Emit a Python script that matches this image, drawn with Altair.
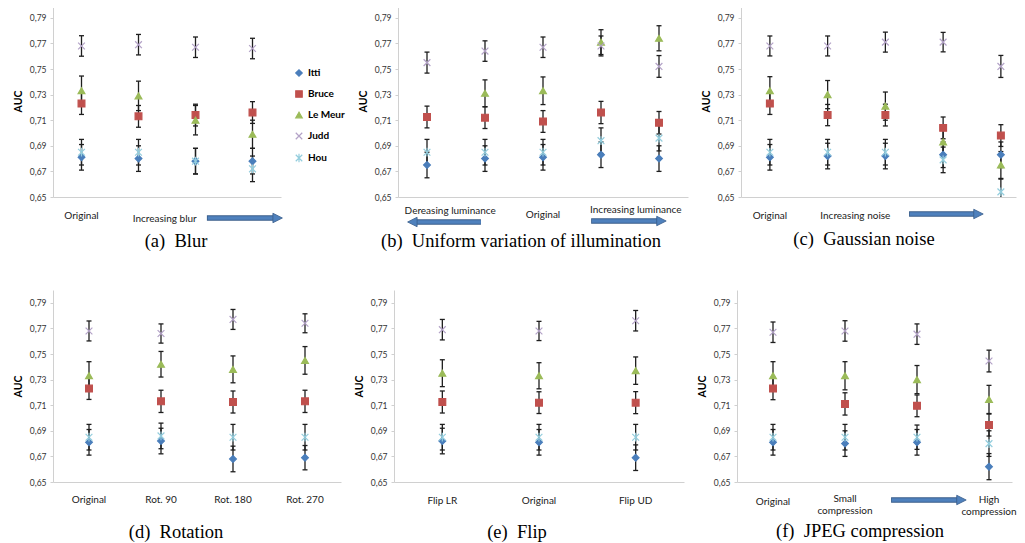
import altair as alt
import pandas as pd

MODELS = ["Itti", "Bruce", "Le Meur", "Judd", "Hou"]
COLORS = ["#4a7ebb", "#c0504d", "#9bbb59", "#b3a2c7", "#93cddd"]
SHAPES = ["diamond", "square", "triangle-up",
          "M-1,-1L1,1M-1,1L1,-1",
          "M-1,-1L1,1M-1,1L1,-1M0,-1.3L0,1.3"]
Y_TICKS = [0.65, 0.67, 0.69, 0.71, 0.73, 0.75, 0.77, 0.79]

# (a) Blur
BLUR = {"Itti": [0.681, 0.680, 0.678, 0.678],
        "Bruce": [0.723, 0.713, 0.714, 0.716],
        "Le Meur": [0.733, 0.729, 0.710, 0.699],
        "Judd": [0.768, 0.769, 0.767, 0.766],
        "Hou": [0.685, 0.685, 0.678, 0.672]}
BLUR_ERR = {"Itti": [0.010, 0.010, 0.010, 0.010],
            "Bruce": [0.0085, 0.0085, 0.0085, 0.0085],
            "Le Meur": [0.0115, 0.0115, 0.0115, 0.011],
            "Judd": [0.008, 0.008, 0.008, 0.008],
            "Hou": [0.010, 0.010, 0.010, 0.010]}

# (b) Uniform variation of illumination
LUM = {"Itti": [0.675, 0.680, 0.681, 0.683, 0.680],
       "Bruce": [0.7125, 0.712, 0.709, 0.716, 0.708],
       "Le Meur": [None, 0.731, 0.733, 0.771, 0.774],
       "Judd": [0.755, 0.764, 0.767, 0.768, 0.752],
       "Hou": [0.685, 0.685, 0.685, 0.694, 0.696]}
LUM_ERR = {"Itti": [0.010, 0.010, 0.010, 0.010, 0.010],
           "Bruce": [0.0085, 0.0085, 0.0085, 0.0087, 0.0088],
           "Le Meur": [0.010, 0.0105, 0.0108, 0.0097, 0.0098],
           "Judd": [0.0082, 0.008, 0.008, 0.0078, 0.0085],
           "Hou": [0.010, 0.010, 0.010, 0.010, 0.010]}

# (c) Gaussian noise
NOISE = {"Itti": [0.681, 0.682, 0.682, 0.683, 0.683],
         "Bruce": [0.723, 0.714, 0.714, 0.704, 0.698],
         "Le Meur": [0.733, 0.730, 0.721, 0.693, 0.675],
         "Judd": [0.768, 0.768, 0.771, 0.771, 0.752],
         "Hou": [0.685, 0.685, 0.685, 0.679, 0.654]}
NOISE_ERR = {"Itti": [0.010, 0.010, 0.010, 0.010, 0.010],
             "Bruce": [0.0085, 0.0083, 0.0085, 0.0085, 0.0085],
             "Le Meur": [0.011, 0.011, 0.011, 0.0105, 0.0105],
             "Judd": [0.0078, 0.0078, 0.0078, 0.0076, 0.0086],
             "Hou": [0.010, 0.010, 0.010, 0.010, 0.010]}

# (d) Rotation
ROT = {"Itti": [0.681, 0.682, 0.668, 0.669],
       "Bruce": [0.723, 0.713, 0.7125, 0.713],
       "Le Meur": [0.733, 0.742, 0.738, 0.745],
       "Judd": [0.768, 0.766, 0.777, 0.774],
       "Hou": [0.685, 0.686, 0.685, 0.685]}
ROT_ERR = {"Itti": [0.010, 0.010, 0.010, 0.0095],
           "Bruce": [0.0085, 0.0087, 0.0086, 0.0087],
           "Le Meur": [0.011, 0.010, 0.0105, 0.0108],
           "Judd": [0.0078, 0.0075, 0.0078, 0.0074],
           "Hou": [0.010, 0.010, 0.010, 0.010]}

# (e) Flip
FLIP = {"Itti": [0.682, 0.681, 0.669],
        "Bruce": [0.7125, 0.712, 0.712],
        "Le Meur": [0.735, 0.733, 0.737],
        "Judd": [0.769, 0.768, 0.776],
        "Hou": [0.685, 0.685, 0.685]}
FLIP_ERR = {"Itti": [0.010, 0.010, 0.010],
            "Bruce": [0.0086, 0.0085, 0.0086],
            "Le Meur": [0.0105, 0.0102, 0.0107],
            "Judd": [0.008, 0.0075, 0.008],
            "Hou": [0.010, 0.010, 0.010]}

# (f) JPEG compression
JPEG = {"Itti": [0.681, 0.680, 0.681, 0.662],
        "Bruce": [0.723, 0.711, 0.7095, 0.6945],
        "Le Meur": [0.733, 0.733, 0.730, 0.7145],
        "Judd": [0.767, 0.768, 0.7655, 0.7445],
        "Hou": [0.685, 0.685, 0.685, 0.680]}
JPEG_ERR = {"Itti": [0.010, 0.010, 0.010, 0.0102],
            "Bruce": [0.0087, 0.0087, 0.0085, 0.0086],
            "Le Meur": [0.011, 0.011, 0.011, 0.011],
            "Judd": [0.008, 0.008, 0.008, 0.0085],
            "Hou": [0.010, 0.010, 0.0095, 0.010]}

LABELS_A = [(1, "Original", 211), (2.46, "Increasing blur", 214)]
ARROWS_A = [(3.2, 4.52, 213, "right")]
LABELS_B = [(1.4, "Dereasing luminance", 206), (3, "Original", 210), (4.6, "Increasing luminance", 205)]
ARROWS_B = [(0.67, 1.93, 217, "left"), (3.83, 5.12, 216, "right")]
LABELS_C = [(1, "Original", 211), (2.48, "Increasing noise", 211)]
ARROWS_C = [(3.41, 4.69, 209, "right")]
LABELS_D = [(1, "Original", 210), (2, "Rot. 90", 210), (3, "Rot. 180", 210), (4, "Rot. 270", 210)]
LABELS_E = [(1, "Flip LR", 211), (2, "Original", 211), (3, "Flip UD", 211)]
LABELS_F = [(1, "Original", 212), (2, "Small\ncompression", 209), (4, "High\ncompression", 210)]
ARROWS_F = [(2.64, 3.68, 210, "right")]

AXIS_COLOR = "#d0d0d0"
ERR_COLOR = "#1e1e1e"
ARROW_FILL = "#4f81bd"
ARROW_EDGE = "#385d8a"
FONT = "Lato"
SERIF = "Liberation Serif"
H = 192


def make_df(means, errs):
    rows = []
    for m in MODELS:
        for i, v in enumerate(means[m]):
            if v is None:
                continue
            e = errs[m][i]
            rows.append({"pos": i + 1, "model": m, "auc": v, "lo": v - e, "hi": v + e})
    return pd.DataFrame(rows)


def panel(means, errs, width, xmax, labels, arrows, caption, cap_y, legend=False):
    df = make_df(means, errs)
    xs = alt.Scale(domain=[0.5, xmax], nice=False, zero=False)
    ys = alt.Scale(domain=[0.65, 0.80], nice=False, zero=False)
    xaxis = alt.Axis(title=None, labels=False, ticks=False, grid=False,
                     domainColor=AXIS_COLOR, domainWidth=1)
    yaxis = alt.Axis(title="AUC", values=Y_TICKS, grid=False,
                     labelExpr="replace(format(datum.value, '.2f'), '.', ',')",
                     labelFont=FONT, labelFontSize=8.5, labelColor="#333333",
                     labelPadding=4, tickSize=3, tickColor=AXIS_COLOR,
                     domainColor=AXIS_COLOR, titleFont=FONT, titleFontSize=10.5,
                     titleFontWeight="bold", titleColor="black", titlePadding=6)

    def X(field):
        return alt.X(field, scale=xs, axis=xaxis)

    def Y(field):
        return alt.Y(field, scale=ys, axis=yaxis)

    base = alt.Chart(df)
    layers = []
    layers.append(base.mark_rule(color=ERR_COLOR, strokeWidth=1.3, clip=True).encode(
        x=X("pos:Q"), y=Y("lo:Q"), y2="hi:Q"))
    for f in ["lo:Q", "hi:Q"]:
        layers.append(base.mark_tick(orient="horizontal", size=5, thickness=1.3,
                                     color=ERR_COLOR, clip=True, opacity=1).encode(
            x=X("pos:Q"), y=Y(f)))

    if legend:
        leg = alt.Legend(orient="none", legendX=241, legendY=63, title=None,
                         labelFont=FONT, labelFontWeight="bold", labelFontSize=10,
                         labelColor="black", symbolSize=42, rowPadding=9,
                         labelOffset=4, padding=0, symbolStrokeWidth=1.2)
    else:
        leg = None
    cscale = alt.Scale(domain=MODELS, range=COLORS)
    layers.append(base.mark_point(filled=True, size=46, strokeWidth=1.2, opacity=1,
                                  clip=True).encode(
        x=X("pos:Q"), y=Y("auc:Q"),
        fill=alt.Fill("model:N", scale=cscale, legend=leg),
        stroke=alt.Stroke("model:N", scale=cscale, legend=leg),
        shape=alt.Shape("model:N", scale=alt.Scale(domain=MODELS, range=SHAPES), legend=leg)))

    for (p, txt, yy) in labels:
        ldf = pd.DataFrame({"pos": [p], "label": [txt]})
        layers.append(alt.Chart(ldf).mark_text(font=FONT, fontSize=10, color="#1a1a1a",
                                               baseline="middle", align="center",
                                               lineBreak="\n", lineHeight=12).encode(
            x=X("pos:Q"), y=alt.value(yy), text="label:N"))

    for (x0, x1, yy, d) in arrows:
        adf = pd.DataFrame({"x0": [x0], "x1": [x1]})
        ach = alt.Chart(adf)
        if d == "right":
            off0, off1, hx, hshape, hoff = 0, -7, "x1:Q", "M-1,-1L1,0L-1,1Z", -4.5
        else:
            off0, off1, hx, hshape, hoff = 7, 0, "x0:Q", "M1,-1L-1,0L1,1Z", 4.5
        layers.append(ach.mark_rule(strokeWidth=5.5, color=ARROW_EDGE, strokeCap="butt",
                                    xOffset=off0, x2Offset=off1).encode(
            x=X("x0:Q"), x2="x1:Q", y=alt.value(yy)))
        layers.append(ach.mark_rule(strokeWidth=3.5, color=ARROW_FILL, strokeCap="butt",
                                    xOffset=off0 + (0.8 if d == "right" else 0),
                                    x2Offset=off1).encode(
            x=X("x0:Q"), x2="x1:Q", y=alt.value(yy)))
        layers.append(ach.mark_point(shape=hshape, filled=True, size=90, color=ARROW_FILL,
                                     stroke=ARROW_EDGE, strokeWidth=0.8, opacity=1,
                                     xOffset=hoff).encode(
            x=X(hx), y=alt.value(yy)))

    cdf = pd.DataFrame({"caption": [caption]})
    layers.append(alt.Chart(cdf).mark_text(font=SERIF, fontSize=18.5, color="black",
                                           baseline="middle", align="center").encode(
        x=alt.value(123), y=alt.value(cap_y), text="caption:N"))

    return alt.layer(*layers).properties(width=width, height=H)


pa = panel(BLUR, BLUR_ERR, 228, 4.5, LABELS_A, ARROWS_A, "(a)\u00a0 Blur", 236, legend=True)
pb = panel(LUM, LUM_ERR, 290, 5.5, LABELS_B, ARROWS_B,
           "(b)\u00a0 Uniform variation of illumination", 236)
pc = panel(NOISE, NOISE_ERR, 275, 0.5 + 275 / 57.75, LABELS_C, ARROWS_C,
           "(c)\u00a0 Gaussian noise", 234)
pd_ = panel(ROT, ROT_ERR, 288, 4.5, LABELS_D, [], "(d)\u00a0 Rotation", 242)
pe = panel(FLIP, FLIP_ERR, 290, 3.5, LABELS_E, [], "(e)\u00a0 Flip", 242)
pf = panel(JPEG, JPEG_ERR, 275, 0.5 + 275 / 72, LABELS_F, ARROWS_F,
           "(f)\u00a0 JPEG compression", 241)

IND = dict(x="independent", y="independent", fill="independent",
           stroke="independent", shape="independent")
LIND = dict(fill="independent", stroke="independent", shape="independent")

row1 = alt.hconcat(pa, pb, pc, spacing=13).resolve_scale(**IND).resolve_legend(**LIND)
row2 = alt.hconcat(pd_, pe, pf, spacing=13).resolve_scale(**IND).resolve_legend(**LIND)

chart = alt.vconcat(row1, row2, spacing=39, background="white",
                    padding={"left": 5, "top": -3, "right": 0, "bottom": 0}) \
    .resolve_scale(**IND).resolve_legend(**LIND) \
    .configure_view(stroke=None)

chart.save("out.html", embed_options={"renderer": "svg", "actions": False})
